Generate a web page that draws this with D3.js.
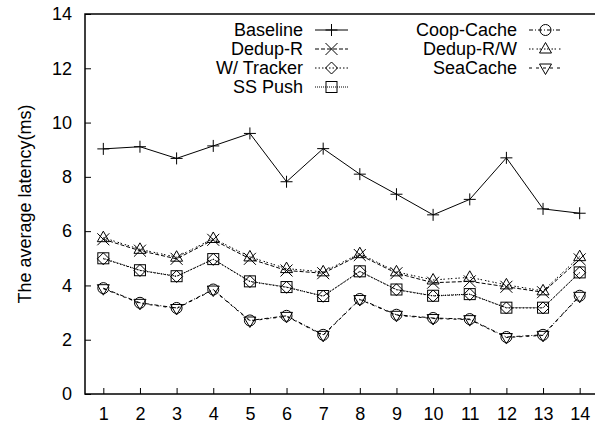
<!DOCTYPE html>
<html>
<head>
<meta charset="utf-8">
<script src="https://cdn.jsdelivr.net/npm/d3@7"></script>
<style>
  body { margin: 0; background: #fff; }
  text { font-family: "Liberation Sans", Arial, sans-serif; fill: #000; }
</style>
</head>
<body>
<div class="chart"></div>
<script>
// data
var xTicks = [1, 2, 3, 4, 5, 6, 7, 8, 9, 10, 11, 12, 13, 14];
var yTicks = [0, 2, 4, 6, 8, 10, 12, 14];

var baseline   = [9.03, 9.11, 8.68, 9.14, 9.60, 7.82, 9.04, 8.10, 7.36, 6.60, 7.17, 8.70, 6.82, 6.66];
var dedupR     = [5.70, 5.28, 4.98, 5.68, 4.98, 4.55, 4.45, 5.12, 4.45, 4.10, 4.15, 3.95, 3.75, 4.96];
var wTracker   = [4.98, 4.55, 4.33, 4.96, 4.14, 3.93, 3.60, 4.51, 3.84, 3.61, 3.67, 3.17, 3.17, 4.47];
var ssPush     = [5.00, 4.56, 4.34, 4.97, 4.15, 3.94, 3.61, 4.52, 3.85, 3.62, 3.68, 3.18, 3.18, 4.48];
var coopCache  = [3.90, 3.36, 3.17, 3.85, 2.71, 2.88, 2.18, 3.50, 2.92, 2.80, 2.76, 2.10, 2.18, 3.62];
var dedupRW    = [5.76, 5.33, 5.04, 5.73, 5.05, 4.62, 4.50, 5.17, 4.50, 4.20, 4.30, 4.02, 3.80, 5.06];
var seaCache   = [3.88, 3.34, 3.15, 3.83, 2.69, 2.86, 2.16, 3.48, 2.90, 2.78, 2.74, 2.08, 2.16, 3.60];

var seriesNames = ["Baseline", "Dedup-R", "W/ Tracker", "SS Push", "Coop-Cache", "Dedup-R/W", "SeaCache"];
var seriesValues = [baseline, dedupR, wTracker, ssPush, coopCache, dedupRW, seaCache];

// line and marker styles per series (gnuplot-like)
var dashes = ["none", "4,2", "1.5,2", "1,1", "4,2,1,2", "1.5,1.5,1.5,3", "3,4"];
var markers = ["plus", "cross", "diamond", "square", "circle", "triangle", "invtriangle"];

// define svg params
var svgWidth = 595;
var svgHeight = 428;

var margin = {
  top: 14,
  right: -3,
  bottom: 34,
  left: 85
};

var width = svgWidth - margin.left - margin.right;
var height = svgHeight - margin.top - margin.bottom;

var svg = d3
  .select(".chart")
  .append("svg")
  .attr("width", svgWidth)
  .attr("height", svgHeight);

var chartGroup = svg.append("g")
  .attr("transform", `translate(${margin.left}, ${margin.top})`);

// scales
var xScale = d3.scaleLinear()
  .domain([0.5, 14.5])
  .range([0, width]);

var yScale = d3.scaleLinear()
  .domain([0, 14])
  .range([height, 0]);

// axes, ticks drawn inward
var bottomAxis = d3.axisBottom(xScale)
  .tickValues(xTicks)
  .tickSize(-6)
  .tickPadding(13)
  .tickFormat(d3.format("d"));

var leftAxis = d3.axisLeft(yScale)
  .tickValues(yTicks)
  .tickSize(-6)
  .tickPadding(13)
  .tickFormat(d3.format("d"));

var xAxisG = chartGroup.append("g")
  .attr("transform", `translate(0, ${height})`)
  .call(bottomAxis);

var yAxisG = chartGroup.append("g")
  .call(leftAxis);

[xAxisG, yAxisG].forEach(function(g) {
  g.select(".domain").remove();
  g.selectAll("line").attr("stroke", "#000").attr("stroke-width", 1);
  g.selectAll("text").attr("font-size", 18).attr("font-family", "Liberation Sans, Arial, sans-serif");
});

// border
chartGroup.append("rect")
  .attr("x", 0)
  .attr("y", 0)
  .attr("width", width)
  .attr("height", height)
  .attr("fill", "none")
  .attr("stroke", "#000")
  .attr("stroke-width", 1.5);

// y axis title
chartGroup.append("text")
  .attr("transform", "rotate(-90)")
  .attr("x", 0 - (height / 2))
  .attr("y", 0 - margin.left + 31)
  .attr("text-anchor", "middle")
  .attr("font-size", 18)
  .text("The average latency(ms)");

// marker drawing helper
function drawMarker(g, type, cx, cy) {
  var s = 6;
  if (type === "plus") {
    g.append("path").attr("d", `M${cx - s},${cy}H${cx + s}M${cx},${cy - s}V${cy + s}`);
  } else if (type === "cross") {
    g.append("path").attr("d", `M${cx - s},${cy - s}L${cx + s},${cy + s}M${cx - s},${cy + s}L${cx + s},${cy - s}`);
  } else if (type === "diamond") {
    g.append("path").attr("d", `M${cx},${cy - s}L${cx + s},${cy}L${cx},${cy + s}L${cx - s},${cy}Z`);
  } else if (type === "square") {
    g.append("rect").attr("x", cx - 5.5).attr("y", cy - 5.5).attr("width", 11).attr("height", 11);
  } else if (type === "circle") {
    g.append("circle").attr("cx", cx).attr("cy", cy).attr("r", 5.5);
  } else if (type === "triangle") {
    g.append("path").attr("d", `M${cx},${cy - 6.5}L${cx + 6},${cy + 4}L${cx - 6},${cy + 4}Z`);
  } else if (type === "invtriangle") {
    g.append("path").attr("d", `M${cx},${cy + 6.5}L${cx + 6},${cy - 4}L${cx - 6},${cy - 4}Z`);
  }
}

var line = d3.line()
  .x((d, i) => xScale(xTicks[i]))
  .y(d => yScale(d));

// lines and points
seriesValues.forEach(function(values, k) {
  var g = chartGroup.append("g")
    .attr("fill", "none")
    .attr("stroke", "#000")
    .attr("stroke-width", 1);

  g.append("path")
    .datum(values)
    .attr("d", line)
    .attr("stroke-dasharray", dashes[k]);

  values.forEach(function(v, i) {
    drawMarker(g, markers[k], xScale(xTicks[i]), yScale(v));
  });
});

// legend, two columns
var legendRows = [30, 49, 68, 87];
var legendCols = [
  { textX: 303, lineX1: 315, lineX2: 348 },
  { textX: 517, lineX1: 529, lineX2: 562 }
];
var legendGroup = svg.append("g");

seriesNames.forEach(function(name, k) {
  var col = legendCols[k < 4 ? 0 : 1];
  var y = legendRows[k < 4 ? k : k - 4];

  legendGroup.append("text")
    .attr("x", col.textX)
    .attr("y", y)
    .attr("dy", "0.35em")
    .attr("text-anchor", "end")
    .attr("font-size", 18)
    .text(name);

  var g = legendGroup.append("g")
    .attr("fill", "none")
    .attr("stroke", "#000")
    .attr("stroke-width", 1);

  g.append("line")
    .attr("x1", col.lineX1)
    .attr("x2", col.lineX2)
    .attr("y1", y)
    .attr("y2", y)
    .attr("stroke-dasharray", dashes[k]);

  drawMarker(g, markers[k], (col.lineX1 + col.lineX2) / 2, y);
});
</script>
</body>
</html>
